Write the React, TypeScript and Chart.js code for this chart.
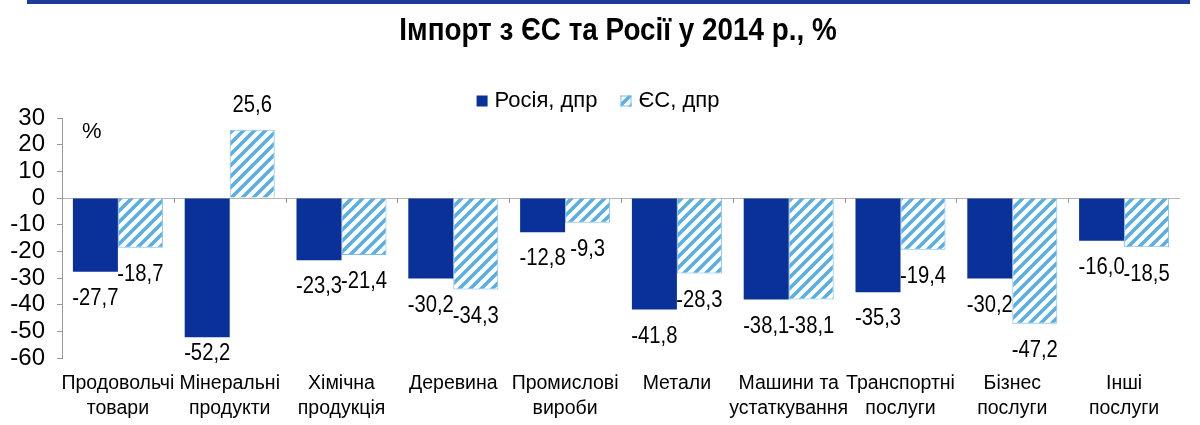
import React, { useEffect, useRef } from "react";
import { Chart, registerables } from "chart.js";

Chart.register(...registerables);

const TITLE = "Імпорт з ЄС та Росії у 2014 р., %";
const categories: string[][] = [
  ["Продовольчі", "товари"],
  ["Мінеральні", "продукти"],
  ["Хімічна", "продукція"],
  ["Деревина"],
  ["Промислові", "вироби"],
  ["Метали"],
  ["Машини та", "устаткування"],
  ["Транспортні", "послуги"],
  ["Бізнес", "послуги"],
  ["Інші", "послуги"],
];
const seriesNames = ["Росія, дпр", "ЄС, дпр"];
const russia = [-27.7, -52.2, -23.3, -30.2, -12.8, -41.8, -38.1, -35.3, -30.2, -16.0];
const eu = [-18.7, 25.6, -21.4, -34.3, -9.3, -28.3, -38.1, -19.4, -47.2, -18.5];
const yTicks = [30, 20, 10, 0, -10, -20, -30, -40, -50, -60];
const unitLabel = "%";

const FONT = "'Liberation Sans', Arial, sans-serif";
const RU_COLOR = "#0a3099";
const EU_STRIPE = "#5aaee2";
const EU_BORDER = "#7cbde8";

function makePattern(): CanvasPattern | string {
  const s = 11;
  const c = document.createElement("canvas");
  c.width = s;
  c.height = s;
  const g = c.getContext("2d");
  if (!g) return EU_STRIPE;
  g.fillStyle = "#ffffff";
  g.fillRect(0, 0, s, s);
  g.strokeStyle = EU_STRIPE;
  g.lineWidth = 3.6;
  g.beginPath();
  for (let k = -1; k <= 1; k++) {
    g.moveTo(k * s - 1, s + 1);
    g.lineTo(k * s + s + 1, -1);
  }
  g.stroke();
  const p = g.createPattern(c, "repeat");
  return p || EU_STRIPE;
}

const fmt = (v: number) => v.toFixed(1).replace(".", ",");

function condensedText(ctx: CanvasRenderingContext2D, text: string, x: number, y: number, sx: number) {
  ctx.save();
  ctx.translate(x, y);
  ctx.scale(sx, 1);
  ctx.fillText(text, 0, 0);
  ctx.restore();
}

export default function App() {
  const ref = useRef<HTMLCanvasElement | null>(null);

  useEffect(() => {
    const canvas = ref.current;
    if (!canvas) return;
    const pattern = makePattern();

    const decor = {
      id: "decor",
      beforeDraw(chart: any) {
        const ctx = chart.ctx as CanvasRenderingContext2D;
        ctx.save();
        ctx.fillStyle = "#ffffff";
        ctx.fillRect(0, 0, chart.width, chart.height);
        ctx.fillStyle = "#1c3a9c";
        ctx.fillRect(27, 0, 1163, 4);
        // title
        ctx.fillStyle = "#000";
        ctx.font = `bold 32px ${FONT}`;
        ctx.textAlign = "center";
        ctx.textBaseline = "alphabetic";
        condensedText(ctx, TITLE, 618, 40, 0.87);
        // legend
        ctx.font = `22px ${FONT}`;
        ctx.textBaseline = "middle";
        const w1 = ctx.measureText(seriesNames[0]).width;
        const w2 = ctx.measureText(seriesNames[1]).width;
        const box = 11, gapBox = 7, gapItem = 23;
        const total = box + gapBox + w1 + gapItem + box + gapBox + w2;
        let x = 598 - total / 2;
        const ly = 101;
        ctx.textAlign = "left";
        ctx.fillStyle = RU_COLOR;
        ctx.fillRect(x, ly - box / 2, box, box);
        ctx.fillStyle = "#000";
        ctx.fillText(seriesNames[0], x + box + gapBox, ly);
        x += box + gapBox + w1 + gapItem;
        ctx.fillStyle = pattern as any;
        ctx.fillRect(x, ly - box / 2, box, box);
        ctx.strokeStyle = EU_BORDER;
        ctx.lineWidth = 1;
        ctx.strokeRect(x + 0.5, ly - box / 2 + 0.5, box - 1, box - 1);
        ctx.fillStyle = "#000";
        ctx.fillText(seriesNames[1], x + box + gapBox, ly);
        // unit label
        ctx.font = `22px ${FONT}`;
        ctx.fillText(unitLabel, 82, 132);
        ctx.restore();
      },
      afterDatasetsDraw(chart: any) {
        const ctx = chart.ctx as CanvasRenderingContext2D;
        const area = chart.chartArea;
        const yScale = chart.scales.y;
        const xScale = chart.scales.x;
        const y0 = yScale.getPixelForValue(0);
        ctx.save();
        // category boundary ticks on zero line
        ctx.strokeStyle = "#999";
        ctx.lineWidth = 1;
        const n = categories.length;
        for (let i = 1; i < n; i++) {
          const px = Math.round((xScale.getPixelForValue(i - 1) + xScale.getPixelForValue(i)) / 2) + 0.5;
          ctx.beginPath();
          ctx.moveTo(px, y0);
          ctx.lineTo(px, y0 + 5);
          ctx.stroke();
        }
        // data labels
        ctx.fillStyle = "#000";
        ctx.font = `23px ${FONT}`;
        ctx.textAlign = "center";
        ctx.textBaseline = "middle";
        chart.data.datasets.forEach((ds: any, di: number) => {
          const meta = chart.getDatasetMeta(di);
          meta.data.forEach((el: any, i: number) => {
            const v = ds.data[i] as number;
            let ty: number;
            if (v < 0) ty = Math.min(el.y + 27, area.bottom - 4);
            else ty = el.y - 24;
            condensedText(ctx, fmt(v), el.x, ty, 0.88);
          });
        });
        ctx.restore();
      },
    };

    const chart = new Chart(canvas, {
      type: "bar",
      data: {
        labels: categories,
        datasets: [
          {
            label: seriesNames[0],
            data: russia,
            backgroundColor: RU_COLOR,
            borderWidth: 0,
          },
          {
            label: seriesNames[1],
            data: eu,
            backgroundColor: pattern as any,
            borderColor: EU_BORDER,
            borderWidth: 1,
          },
        ],
      },
      options: {
        responsive: false,
        animation: false,
        devicePixelRatio: 1,
        layout: { padding: { top: 118, right: 20, bottom: 0, left: 0 } },
        datasets: { bar: { categoryPercentage: 0.805, barPercentage: 1 } },
        plugins: {
          legend: { display: false },
          title: { display: false },
          tooltip: { enabled: false },
        },
        scales: {
          x: {
            grid: { display: false, drawTicks: false },
            border: { display: false },
            ticks: {
              color: "#000",
              font: { family: FONT, size: 19.5, lineHeight: 1.3 },
              padding: 13,
              maxRotation: 0,
              autoSkip: false,
            },
            afterFit(scale: any) {
              scale.height = 67;
            },
          },
          y: {
            min: -60,
            max: 30,
            afterBuildTicks(scale: any) {
              scale.ticks = yTicks.map((v) => ({ value: v }));
            },
            grid: {
              color: (c: any) => (c.tick && c.tick.value === 0 ? "#b4b4b4" : "rgba(0,0,0,0)"),
              tickColor: "#999",
              tickLength: 5,
              lineWidth: 1,
            },
            border: { display: true, color: "#999" },
            ticks: {
              color: "#000",
              font: { family: FONT, size: 24 },
              padding: 12,
              autoSkip: false,
              callback: (v: any) => String(v),
            },
            afterFit(scale: any) {
              scale.width = 62;
            },
          },
        },
      },
      plugins: [decor],
    });

    return () => chart.destroy();
  }, []);

  return (
    <div style={{ position: "fixed", left: 0, top: 0, width: 1200, height: 425, background: "#fff" }}>
      <canvas ref={ref} width={1200} height={425} style={{ width: 1200, height: 425, display: "block" }} />
    </div>
  );
}
